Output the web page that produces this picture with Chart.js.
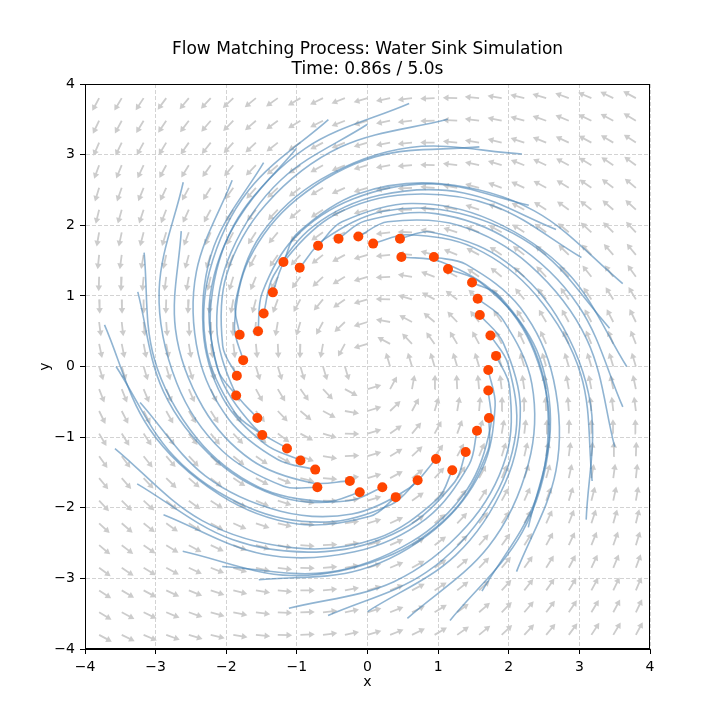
<!DOCTYPE html>
<html>
<head>
<meta charset="utf-8">
<script src="https://cdn.jsdelivr.net/npm/chart.js@4.4.1/dist/chart.umd.min.js"></script>
<style>
  html, body { margin: 0; padding: 0; background: #fff; }
  canvas { display: block; }
</style>
</head>
<body>
<canvas id="chart" width="720" height="721"></canvas>
<script>
const titleLines = ['Flow Matching Process: Water Sink Simulation', 'Time: 0.86s / 5.0s']
const axisTicks = [-4, -3, -2, -1, 0, 1, 2, 3, 4]

// quiver grid (both axes) and the sink field: rotation plus a weaker pull inward
const arrowGrid = [-3.8, -3.48, -3.17, -2.85, -2.53, -2.22, -1.9, -1.58, -1.27, -0.95, -0.63, -0.32, 0,
  0.32, 0.63, 0.95, 1.27, 1.58, 1.9, 2.22, 2.53, 2.85, 3.17, 3.48, 3.8]
const swirl = 1
const inflow = 0.3

// particle positions at t = 0.86s
const particlesX = [1.82, 1.74, 1.59, 1.56, 1.48, 1.14, 0.94, 0.48, 0.46, 0.08, -0.13, -0.41, -0.70, -0.96,
  -1.19, -1.34, -1.47, -1.55, -1.81, -1.76, -1.85, -1.86, -1.56, -1.49, -1.14, -0.95, -0.74, -0.71, -0.25,
  -0.11, 0.21, 0.40, 0.71, 0.97, 1.20, 1.39, 1.55, 1.72, 1.71, 1.71]
const particlesY = [0.15, 0.44, 0.73, 0.96, 1.19, 1.38, 1.55, 1.55, 1.81, 1.74, 1.84, 1.81, 1.71, 1.40, 1.48,
  1.05, 0.75, 0.50, 0.45, 0.09, -0.13, -0.41, -0.73, -0.97, -1.16, -1.33, -1.46, -1.71, -1.62, -1.78, -1.71,
  -1.85, -1.61, -1.31, -1.47, -1.21, -0.91, -0.73, -0.34, -0.05]

// trail waypoints as [angle in degrees, radius], from the start point inward
const trails = [
  [[0, 3.67], [25, 3.13], [50, 2.71], [75, 2.39], [100, 2.08]],
  [[9, 3.47], [34, 2.94], [59, 2.53], [84, 2.21], [109, 1.90]],
  [[18, 3.80], [43, 3.23], [68, 2.79], [93, 2.45], [118, 2.13]],
  [[27, 3.40], [52, 2.89], [77, 2.50], [102, 2.20], [127, 1.91]],
  [[36, 3.30], [61, 2.81], [86, 2.43], [111, 2.13], [136, 1.85]],
  [[45, 3.23], [70, 2.75], [95, 2.38], [120, 2.09], [145, 1.82]],
  [[54, 3.72], [79, 3.16], [104, 2.73], [129, 2.40], [154, 2.08]],
  [[63, 3.49], [88, 2.97], [113, 2.57], [138, 2.26], [163, 1.97]],
  [[72, 3.68], [97, 3.13], [122, 2.71], [147, 2.38], [172, 2.07]],
  [[81, 3.77], [106, 3.21], [131, 2.78], [156, 2.44], [181, 2.12]],
  [[90, 3.43], [115, 2.91], [140, 2.52], [165, 2.21], [190, 1.92]],
  [[99, 3.54], [124, 3.01], [149, 2.61], [174, 2.29], [199, 1.99]],
  [[108, 3.25], [133, 2.76], [158, 2.39], [183, 2.10], [208, 1.82]],
  [[117, 3.24], [142, 2.76], [167, 2.39], [192, 2.10], [217, 1.82]],
  [[126, 3.26], [151, 2.77], [176, 2.40], [201, 2.10], [226, 1.83]],
  [[135, 3.69], [160, 3.14], [185, 2.71], [210, 2.38], [235, 2.07]],
  [[144, 3.26], [169, 2.77], [194, 2.40], [219, 2.11], [244, 1.83]],
  [[153, 3.55], [178, 3.02], [203, 2.62], [228, 2.30], [253, 2.00]],
  [[162, 3.42], [187, 2.91], [212, 2.52], [237, 2.21], [262, 1.92]],
  [[171, 3.77], [196, 3.21], [221, 2.77], [246, 2.44], [271, 2.12]],
  [[180, 3.56], [205, 3.02], [230, 2.61], [255, 2.28], [280, 1.98]],
  [[189, 3.26], [214, 2.77], [239, 2.39], [264, 2.10], [289, 1.82]],
  [[198, 3.76], [223, 3.20], [248, 2.77], [273, 2.44], [298, 2.12]],
  [[207, 3.66], [232, 3.11], [257, 2.69], [282, 2.36], [307, 2.05]],
  [[216, 3.57], [241, 3.04], [266, 2.63], [291, 2.31], [316, 2.00]],
  [[225, 3.70], [250, 3.15], [275, 2.72], [300, 2.39], [325, 2.08]],
  [[234, 3.50], [259, 2.97], [284, 2.56], [309, 2.24], [334, 1.94]],
  [[243, 3.39], [268, 2.88], [293, 2.49], [318, 2.18], [343, 1.89]],
  [[252, 3.60], [277, 3.07], [302, 2.66], [327, 2.34], [352, 2.03]],
  [[261, 3.57], [286, 3.03], [311, 2.62], [336, 2.30], [361, 1.99]],
  [[270, 3.47], [295, 2.95], [320, 2.55], [345, 2.24], [370, 1.95]],
  [[279, 3.61], [304, 3.07], [329, 2.66], [354, 2.34], [379, 2.03]],
  [[288, 3.78], [313, 3.21], [338, 2.78], [363, 2.44], [388, 2.12]],
  [[297, 3.57], [322, 3.03], [347, 2.62], [372, 2.30], [397, 1.99]],
  [[306, 3.59], [331, 3.05], [356, 2.64], [381, 2.32], [406, 2.01]],
  [[315, 3.22], [340, 2.74], [365, 2.37], [390, 2.08], [415, 1.81]],
  [[325, 3.78], [350, 3.21], [375, 2.77], [400, 2.42], [425, 2.10]],
  [[333, 3.57], [358, 3.02], [383, 2.59], [408, 2.26], [433, 1.95]],
  [[342, 3.68], [367, 3.13], [392, 2.71], [417, 2.38], [442, 2.07]],
  [[351, 3.66], [376, 3.11], [401, 2.70], [426, 2.37], [451, 2.06]]
]
// which particle each trail ends on
const trailEnds = [12, 13, 14, 15, 16, 17, 18, 19, 20, 21, 22, 23, 24, 25, 26, 27, 28, 29, 30, 31, 32, 33,
  34, 35, 36, 37, 38, 39, 0, 1, 2, 3, 4, 5, 6, 7, 8, 9, 10, 11]

const arrowLength = 0.2
const headBack = 0.05
const arrowColor = '#cccccc'
const toRad = Math.PI / 180

const shafts = []
const heads = []
const headRotation = []
for (const gy of arrowGrid) {
  for (const gx of arrowGrid) {
    const u = -swirl * gy - inflow * gx
    const v = swirl * gx - inflow * gy
    const m = Math.hypot(u, v)
    if (m === 0) continue
    const dx = u / m
    const dy = v / m
    const hx = gx + dx * (arrowLength - headBack)
    const hy = gy + dy * (arrowLength - headBack)
    shafts.push({ x: gx, y: gy }, { x: hx, y: hy }, { x: NaN, y: NaN })
    heads.push({ x: hx, y: hy })
    headRotation.push(90 - Math.atan2(dy, dx) / toRad)
  }
}

const trailSets = trails.map((pts, i) => {
  const data = pts.map(([a, r]) => ({ x: r * Math.cos(a * toRad), y: r * Math.sin(a * toRad) }))
  const end = trailEnds[i]
  data.push({ x: particlesX[end], y: particlesY[end] })
  return {
    data,
    showLine: true,
    pointRadius: 0,
    borderColor: 'rgba(70, 130, 180, 0.6)',
    borderWidth: 1.6,
    tension: 0.35,
    order: 2
  }
})

const frame = {
  id: 'frame',
  afterDatasetsDraw(chart) {
    const { ctx, chartArea: a } = chart
    ctx.save()
    ctx.strokeStyle = '#000'
    ctx.lineWidth = 1
    ctx.strokeRect(a.left + 0.5, a.top + 0.5, a.width - 1, a.height - 1)
    ctx.restore()
  }
}

const minus = (v) => String(v).replace('-', '\u2212')

function axis(label, fit) {
  return {
    type: 'linear',
    min: -4,
    max: 4,
    afterBuildTicks: (scale) => { scale.ticks = axisTicks.map((value) => ({ value })) },
    afterFit: fit,
    ticks: { callback: minus, padding: 5, font: { size: 14 }, color: '#000' },
    grid: { color: 'rgba(176, 176, 176, 0.7)', lineWidth: 0.8, tickLength: 5, tickColor: '#000', tickWidth: 1 },
    border: { display: true, color: '#000', width: 1, dash: [4, 2] },
    title: label
  }
}

Chart.defaults.font.family = 'DejaVu Sans'
Chart.defaults.color = '#000'

new Chart(document.getElementById('chart'), {
  type: 'scatter',
  data: {
    datasets: [
      {
        data: particlesX.map((x, i) => ({ x, y: particlesY[i] })),
        pointRadius: 5,
        pointBackgroundColor: '#ff4500',
        pointBorderWidth: 0,
        order: 1
      },
      ...trailSets,
      {
        data: heads,
        pointStyle: 'triangle',
        pointRadius: 3.8,
        pointRotation: headRotation,
        pointBackgroundColor: arrowColor,
        pointBorderWidth: 0,
        order: 3
      },
      {
        data: shafts,
        showLine: true,
        spanGaps: false,
        pointRadius: 0,
        borderColor: arrowColor,
        borderWidth: 1.8,
        order: 4
      }
    ]
  },
  options: {
    responsive: false,
    animation: false,
    devicePixelRatio: 1,
    layout: { padding: { left: 15, right: 0, top: 0, bottom: 0 } },
    plugins: {
      legend: { display: false },
      tooltip: { enabled: false },
      title: {
        display: true,
        text: titleLines,
        font: { size: 17, weight: 'normal', lineHeight: '20px' },
        color: '#000',
        padding: { top: 40, bottom: 4 }
      }
    },
    scales: {
      x: axis({ display: true, text: 'x', font: { size: 14 }, padding: { top: 0, bottom: 30 } },
        (s) => { s.height = 72 }),
      y: axis({ display: true, text: 'y', font: { size: 14 }, padding: { top: 22, bottom: 0 } },
        (s) => { s.width = 70 }),
      yRight: {
        type: 'linear',
        position: 'right',
        min: -4,
        max: 4,
        ticks: { display: false },
        grid: { display: false, drawTicks: false },
        border: { display: false },
        afterFit: (s) => { s.width = 70 }
      }
    }
  },
  plugins: [frame]
})
</script>
</body>
</html>
